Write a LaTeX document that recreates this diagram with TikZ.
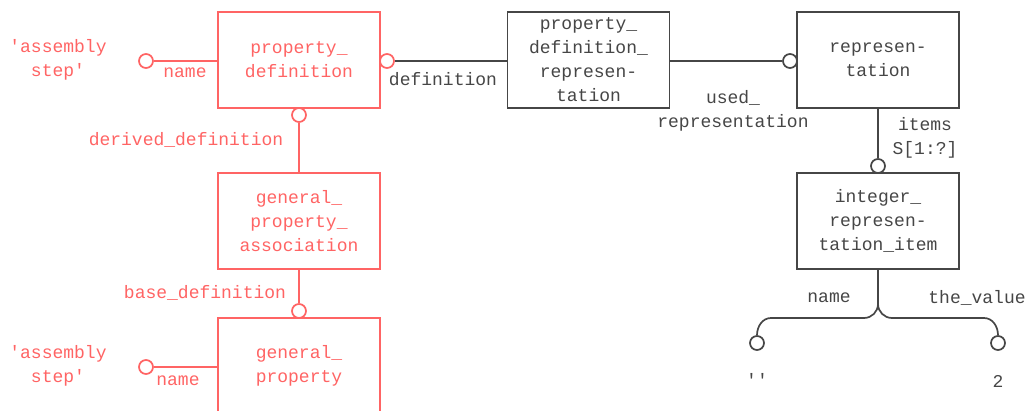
\documentclass[tikz,border=0pt]{standalone}
\usepackage{fontspec}
\setmainfont{Liberation Mono}[Ligatures=TeXOff]
\usetikzlibrary{positioning}
\definecolor{refred}{RGB}{255,100,100}
\definecolor{refgray}{RGB}{70,70,70}
\newcommand{\lblfont}{\fontsize{18}{24}\selectfont}

\begin{document}
\begin{tikzpicture}[
		x=1pt, y=-1pt,
		line width=1.7pt,
		entity/.style={rectangle, draw=refgray, text=refgray, minimum width=162pt, minimum height=96pt, align=center, inner sep=0pt, font=\lblfont},
		refentity/.style={entity, draw=refred, text=refred},
		ring/.style={circle, draw=refgray, fill=white, minimum size=14pt, inner sep=0pt},
		refring/.style={ring, draw=refred},
		lbl/.style={text=refgray, align=center, inner sep=0pt, font=\lblfont},
		reflbl/.style={lbl, text=refred},
	]
		\useasboundingbox (0, 0) rectangle (1027, 411);

		% entities
		\node [refentity] (propdef) at (299, 60) {property\_\\definition};
		\node [entity] (pdr) at (588.5, 60) {property\_\\definition\_\\represen-\\tation};
		\node [entity] (rep) at (878, 60) {represen-\\tation};
		\node [entity] (intitem) at (878, 221) {integer\_\\represen-\\tation\_item};
		\node [refentity] (gpa) at (299, 221) {general\_\\property\_\\association};
		\node [refentity] (gp) at (299, 366) {general\_\\property};

		% rings
		\node [refring] (pdname) at (146, 61) {};
		\node [refring] (pddef) at (387, 61) {};
		\node [ring] (repuse) at (790, 61) {};
		\node [ring] (itemsring) at (878, 166) {};
		\node [refring] (derring) at (299, 115) {};
		\node [refring] (basering) at (299, 311) {};
		\node [refring] (gpname) at (146, 367) {};
		\node [ring] (namering) at (757, 343) {};
		\node [ring] (valring) at (998, 343) {};
		\coordinate (fork) at (878, 304);

		% relations
		\path [draw=refred] (pdname) edge (propdef.west |- pdname);
		\path [draw=refgray] (pddef) edge (pdr.west |- pddef);
		\path [draw=refgray] (pdr.east |- repuse) edge (repuse);
		\path [draw=refgray] (rep.south) edge (itemsring);
		\path [draw=refred] (derring) edge (gpa.north);
		\path [draw=refred] (gpa.south) edge (basering);
		\path [draw=refred] (gpname) edge (gp.west |- gpname);
		\draw [refgray] (intitem.south) -- (fork)
			to [out=-90, in=0] (864, 318) -- (771, 318)
			to [out=180, in=90] (namering.north);
		\draw [refgray] (fork)
			to [out=-90, in=180] (892, 318) -- (984, 318)
			to [out=0, in=90] (valring.north);

		% attribute labels
		\node [reflbl] (asstep1) at (58, 60) {'assembly\\step'};
		\node [reflbl] (pdnamelbl) at (185, 73) {name};
		\node [lbl] (deflbl) at (443, 79) {definition};
		\node [lbl] (uselbl) at (733, 111) {used\_\\representation};
		\node [lbl] (itemslbl) at (925, 138) {items\\S[1:?]};
		\node [reflbl] (derlbl) at (186, 140) {derived\_definition};
		\node [reflbl] (baselbl) at (205, 293) {base\_definition};
		\node [reflbl] (asstep2) at (58, 366) {'assembly\\step'};
		\node [reflbl] (gpnamelbl) at (178, 381) {name};
		\node [lbl] (namelbl) at (829, 298) {name};
		\node [lbl] (vallbl) at (977, 298) {the\_value};
		\node [lbl] (nameval) at (757, 380) {''};
		\node [lbl] (valval) at (998, 381) {2};
	\end{tikzpicture}
\end{document}
